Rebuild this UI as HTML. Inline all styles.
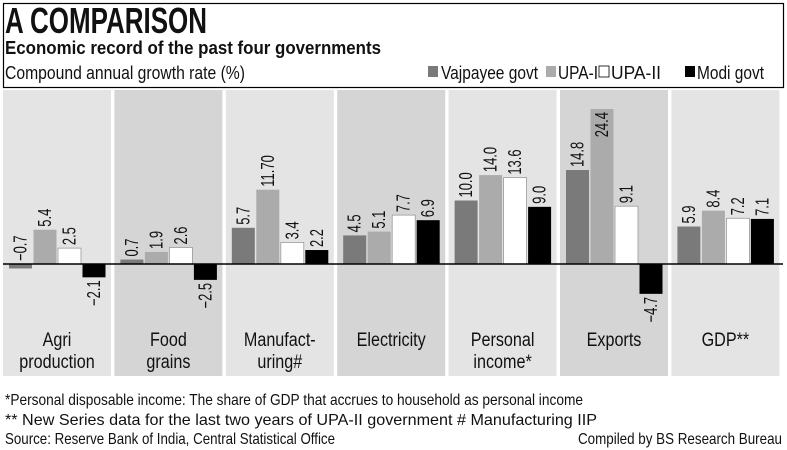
<!DOCTYPE html>
<html><head><meta charset="utf-8"><style>
body{margin:0;background:#fff;}
svg{display:block;font-family:"Liberation Sans Narrow","Liberation Sans",sans-serif;}
</style></head><body>
<svg id="c" width="787" height="450" viewBox="0 0 787 450">
<rect x="0" y="0" width="787" height="450" fill="#fff"/>
<rect x="3.5" y="3.5" width="780" height="84" fill="#fff" stroke="#000" stroke-width="1.2"/>
<text x="5" y="33" font-size="36" font-weight="bold" textLength="202" lengthAdjust="spacingAndGlyphs" fill="#111">A COMPARISON</text>
<text x="5" y="54" font-size="18" font-weight="bold" textLength="376" lengthAdjust="spacingAndGlyphs" fill="#111">Economic record of the past four governments</text>
<text x="5" y="79" font-size="18" textLength="240" lengthAdjust="spacingAndGlyphs" fill="#111">Compound annual growth rate (%)</text>
<g id="legend"></g>
<g id="panels"></g>
<g id="bars"></g>
<line x1="3" x2="783" y1="264" y2="264" stroke="#000" stroke-width="1.5"/>
<text x="5" y="405" font-size="16" textLength="578" lengthAdjust="spacingAndGlyphs" fill="#111">*Personal disposable income: The share of GDP that accrues to household as personal income</text>
<text x="5" y="425" font-size="16" textLength="592" lengthAdjust="spacingAndGlyphs" fill="#111">** New Series data for the last two years of UPA-II government  # Manufacturing IIP</text>
<text x="5" y="444" font-size="16" textLength="330" lengthAdjust="spacingAndGlyphs" fill="#111">Source: Reserve Bank of India, Central Statistical Office</text>
<text x="578" y="444" font-size="16" textLength="204" lengthAdjust="spacingAndGlyphs" fill="#111">Compiled by BS Research Bureau</text>
</svg>
<script>
const categories1 = ["Agri","Food","Manufact-","Electricity","Personal","Exports","GDP**"];
const categories2 = ["production","grains","uring#","","income*","",""];
const seriesNames = ["Vajpayee govt","UPA-I","UPA-II","Modi govt"];
const vajpayee = [-0.7,0.7,5.7,4.5,10.0,14.8,5.9];
const upa1 = [5.4,1.9,11.70,5.1,14.0,24.4,8.4];
const upa2 = [2.5,2.6,3.4,7.7,13.6,9.1,7.2];
const modi = [-2.1,-2.5,2.2,6.9,9.0,-4.7,7.1];
const labels = [
 ["−0.7","0.7","5.7","4.5","10.0","14.8","5.9"],
 ["5.4","1.9","11.70","5.1","14.0","24.4","8.4"],
 ["2.5","2.6","3.4","7.7","13.6","9.1","7.2"],
 ["−2.1","−2.5","2.2","6.9","9.0","−4.7","7.1"]
];
const NS="http://www.w3.org/2000/svg";
const colors=["#7a7a7a","#ababab","#ffffff","#000000"];
const series=[vajpayee,upa1,upa2,modi];
const baseY=264, scale=6.35;
function y(v){return baseY - v*scale;}
function panelX(i){return 3 + i*111.4;}
function mk(tag,attrs,parent){const e=document.createElementNS(NS,tag);for(const k in attrs)e.setAttribute(k,attrs[k]);parent.appendChild(e);return e;}
const panels=document.getElementById('panels'), bars=document.getElementById('bars'), legend=document.getElementById('legend');
categories1.forEach((c,i)=>{
  const px=panelX(i);
  const r=mk('rect',{x:px,y:90,width:108,height:286,fill:i%2?"#d5d5d5":"#e4e4e4"},panels);
  
  
  const t1=mk('text',{x:px+54,y:346,'font-size':19,'text-anchor':'middle',fill:'#111'},panels);
  t1.textContent=c;
  
  
  t1.setAttribute('textLength',(t1.getComputedTextLength()*0.85).toFixed(1));
  t1.setAttribute('lengthAdjust','spacingAndGlyphs');
  if(categories2[i]){const t2=mk('text',{x:px+54,y:368,'font-size':19,'text-anchor':'middle',fill:'#111'},panels);
  t2.textContent=categories2[i];
  
  
  t2.setAttribute('textLength',(t2.getComputedTextLength()*0.85).toFixed(1));
  t2.setAttribute('lengthAdjust','spacingAndGlyphs');}
  series.forEach((s,j)=>{
    const v=s[i], bx=px+6+j*24.5, top=Math.min(y(v),baseY), h=Math.abs(y(v)-baseY);
    const b=mk('rect',{x:bx,y:top,width:23,height:Math.max(h,1),fill:colors[j],stroke:j==2?"#999":"none","stroke-width":0.8},bars);
    
    
    const cx=bx+11.5;
    let ly, anchor;
    if(v>=0){
      if(top<140){ly=top+3;anchor='end';}else{ly=top-3;anchor='start';}
    } else if(v>-1){ly=baseY-3;anchor='start';}
    else {ly=top+h+3;anchor='end';}
    const t=mk('text',{x:cx,y:ly,'font-size':18,'text-anchor':anchor,fill:'#111',transform:`rotate(-90 ${cx} ${ly})`,dy:6},bars);
    t.textContent=labels[j][i];
    
    
    t.setAttribute('textLength',(t.getComputedTextLength()*0.72).toFixed(1));
    t.setAttribute('lengthAdjust','spacingAndGlyphs');
  });
});
const sx=[428,546,599,685], tx=[441,558,611,697], lw=[97,40,50,67];
seriesNames.forEach((n,j)=>{
  const sq=mk('rect',{x:sx[j],y:66,width:10,height:11,fill:colors[j],stroke:j==2?"#000":"none","stroke-width":0.8},legend);
  
  
  const t=mk('text',{x:tx[j],y:79,'font-size':18,fill:'#111'},legend);
  t.textContent=n;
  t.setAttribute('textLength',lw[j]);
  t.setAttribute('lengthAdjust','spacingAndGlyphs');
  
  
});
</script>
</body></html>
